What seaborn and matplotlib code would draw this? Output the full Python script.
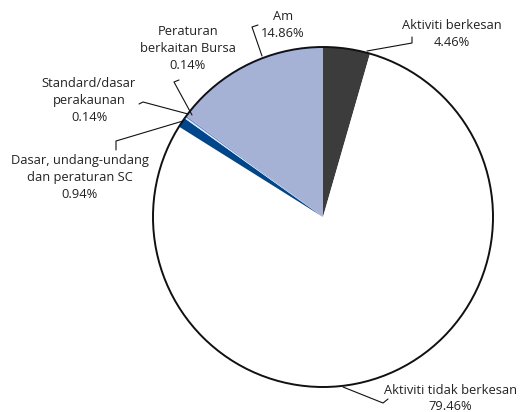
import matplotlib
matplotlib.use("Agg")
import matplotlib.pyplot as plt
import seaborn as sns
from matplotlib.patches import Circle

# ---- data ----
categories = [
    "Aktiviti berkesan",
    "Aktiviti tidak berkesan",
    "Dasar, undang-undang\ndan peraturan SC",
    "Standard/dasar\nperakaunan",
    "Peraturan\nberkaitan Bursa",
    "Am",
]
values = [4.46, 79.46, 0.94, 0.14, 0.14, 14.86]
pct_labels = ["4.46%", "79.46%", "0.94%", "0.14%", "0.14%", "14.86%"]

# ---- style ----
colors = ["#3c3c3c", "#ffffff", "#00468c", "#e4eaf5", "#6f8fca", "#a5b2d6"]
sns.set_theme(style="white")
plt.rcParams["font.family"] = ["Open Sans", "DejaVu Sans"]

W, H = 530, 412
fig = plt.figure(figsize=(W / 100, H / 100), dpi=100)
ax = fig.add_axes([0, 0, 1, 1])

cx, cy, R = 323, 217, 170
ax.pie(values, colors=colors, startangle=-90, counterclock=True,
       center=(cx, cy), radius=R, wedgeprops=dict(linewidth=0))
ax.add_patch(Circle((cx, cy), R, fill=False, edgecolor="#111111", lw=1.4, zorder=5))

ax.set_xlim(0, W)
ax.set_ylim(H, 0)
ax.set_aspect("equal")
ax.axis("off")

# label layout (pixel coords, y down)
text_pos = [(452, 33.5), (450, 398.5), (80, 177), (89, 100), (188, 48), (283, 25)]
leaders = [
    [(367, 51), (412, 43), (412, 37)],
    [(343, 387), (383, 403), (388, 399)],
    [(183, 121), (116, 141), (116, 150)],
    [(188, 114), (143, 102), (139, 104)],
    [(192, 115), (174, 82), (179, 80)],
    [(262, 56), (252, 27), (258, 25)],
]

for cat, pct, (tx, ty), pts in zip(categories, pct_labels, text_pos, leaders):
    ax.text(tx, ty, f"{cat}\n{pct}", ha="center", va="center",
            multialignment="center", fontsize=9.3, color="#222222",
            linespacing=1.4)
    xs, ys = zip(*pts)
    ax.plot(xs, ys, color="#111111", lw=0.8, zorder=6)

fig.savefig("out.png", dpi=100)
